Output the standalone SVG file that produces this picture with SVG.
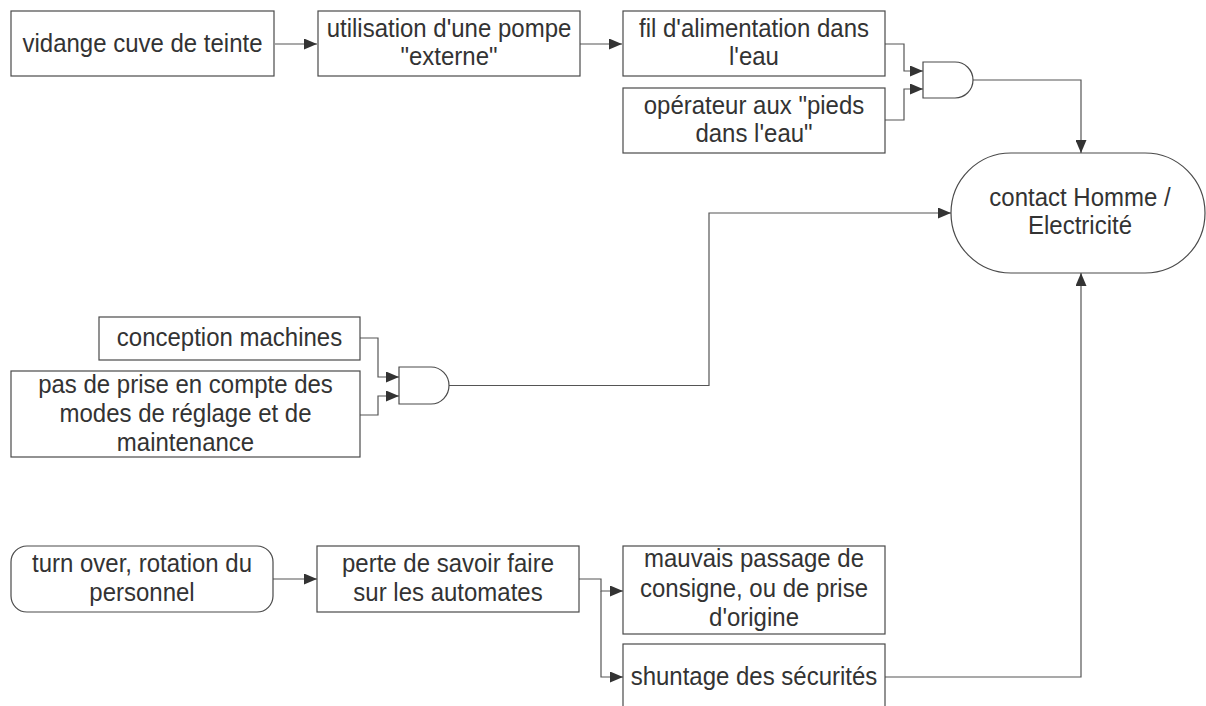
<svg xmlns="http://www.w3.org/2000/svg" width="1206" height="706" viewBox="0 0 1206 706">
<defs>
<style>
.box{fill:#fff;stroke:#4a4a4a;stroke-width:1.2}
.gate{fill:#fff;stroke:#4a4a4a;stroke-width:1.2}
.t{font-family:"Liberation Sans",Arial,sans-serif;font-size:24px;fill:#333;text-anchor:middle}
.c{fill:none;stroke:#555;stroke-width:1.2}
</style>
<marker id="ah" viewBox="0 0 13 11" refX="13" refY="5.5" markerWidth="13" markerHeight="11" markerUnits="userSpaceOnUse" orient="auto">
<path d="M0,0 L13,5.5 L0,11 Z" fill="#333"/>
</marker>
</defs>
<rect width="1206" height="706" fill="#fff"/>
<g id="connectors">
<path class="c" d="M275,44 H317" marker-end="url(#ah)"/>
<path class="c" d="M580,44 H622" marker-end="url(#ah)"/>
<path class="c" d="M885,44 H904 V71 H923" marker-end="url(#ah)"/>
<path class="c" d="M885,120 H904 V89 H923" marker-end="url(#ah)"/>
<path class="c" d="M973,80 H1081 V153" marker-end="url(#ah)"/>
<path class="c" d="M360,338 H378 V377 H399" marker-end="url(#ah)"/>
<path class="c" d="M360,415 H378 V396 H399" marker-end="url(#ah)"/>
<path class="c" d="M449,385.5 H709 V213 H951" marker-end="url(#ah)"/>
<path class="c" d="M273,579 H317" marker-end="url(#ah)"/>
<path class="c" d="M579,579 H601 V591 H623" marker-end="url(#ah)"/>
<path class="c" d="M601,591 V677 H623" marker-end="url(#ah)"/>
<path class="c" d="M885,677 H1081 V273" marker-end="url(#ah)"/>
</g>
<g id="n1"><rect class="box" x="11" y="11" width="263" height="65"/><text class="t" transform="translate(142.5,52) scale(1,1.1)">vidange cuve de teinte</text></g>
<g id="n2"><rect class="box" x="318" y="11" width="262" height="65"/><text class="t" transform="translate(449,37) scale(1,1.1)">utilisation d'une pompe</text><text class="t" transform="translate(449,65) scale(1,1.1)">"externe"</text></g>
<g id="n3"><rect class="box" x="623" y="11" width="262" height="65"/><text class="t" transform="translate(754,37) scale(1,1.1)">fil d'alimentation dans</text><text class="t" transform="translate(754,65) scale(1,1.1)">l'eau</text></g>
<g id="n4"><rect class="box" x="623" y="88" width="262" height="65"/><text class="t" transform="translate(754,114) scale(1,1.1)">opérateur aux "pieds</text><text class="t" transform="translate(754,142) scale(1,1.1)">dans l'eau"</text></g>
<g id="g1"><path class="gate" d="M923,62 H955 A18,18 0 0 1 955,98 H923 Z"/></g>
<g id="n5"><rect class="box" x="951" y="153" width="254" height="120" rx="60" ry="60"/><text class="t" transform="translate(1080,206) scale(1,1.1)">contact Homme /</text><text class="t" transform="translate(1080,234) scale(1,1.1)">Electricité</text></g>
<g id="n6"><rect class="box" x="99" y="317" width="261" height="43"/><text class="t" transform="translate(229.5,346) scale(1,1.1)">conception machines</text></g>
<g id="n7"><rect class="box" x="11" y="371" width="349" height="86"/><text class="t" transform="translate(185.5,393) scale(1,1.1)">pas de prise en compte des</text><text class="t" transform="translate(185.5,422) scale(1,1.1)">modes de réglage et de</text><text class="t" transform="translate(185.5,451) scale(1,1.1)">maintenance</text></g>
<g id="g2"><path class="gate" d="M399,367 H431 A18,18.5 0 0 1 431,404 H399 Z"/></g>
<g id="n8"><rect class="box" x="11" y="546" width="262" height="66" rx="16" ry="16"/><text class="t" transform="translate(142,572) scale(1,1.1)">turn over, rotation du</text><text class="t" transform="translate(142,601) scale(1,1.1)">personnel</text></g>
<g id="n9"><rect class="box" x="317" y="546" width="262" height="66"/><text class="t" transform="translate(448,572) scale(1,1.1)">perte de savoir faire</text><text class="t" transform="translate(448,601) scale(1,1.1)">sur les automates</text></g>
<g id="n10"><rect class="box" x="623" y="546" width="262" height="88"/><text class="t" transform="translate(754,567) scale(1,1.1)">mauvais passage de</text><text class="t" transform="translate(754,597) scale(1,1.1)">consigne, ou de prise</text><text class="t" transform="translate(754,626) scale(1,1.1)">d'origine</text></g>
<g id="n11"><rect class="box" x="623" y="644" width="262" height="70"/><text class="t" transform="translate(754,685) scale(1,1.1)">shuntage des sécurités</text></g>
</svg>
